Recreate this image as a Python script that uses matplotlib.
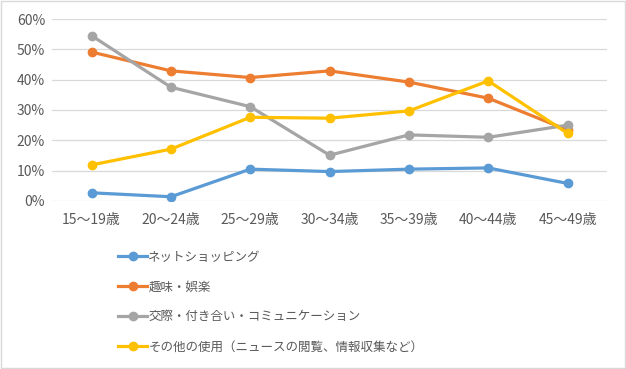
import matplotlib.pyplot as plt
from matplotlib.patches import Rectangle

plt.rcParams['font.family'] = ['Noto Sans CJK JP', 'DejaVu Sans']

# データ
ages = ['15〜19歳', '20〜24歳', '25〜29歳', '30〜34歳', '35〜39歳', '40〜44歳', '45〜49歳']
shopping = [2.7, 1.4, 10.5, 9.7, 10.5, 10.9, 5.8]
hobby = [49.1, 42.9, 40.7, 42.9, 39.2, 33.9, 23.4]
social = [54.5, 37.5, 31.1, 15.1, 21.8, 21.0, 25.0]
other = [11.9, 17.1, 27.6, 27.3, 29.7, 39.6, 22.3]

labels = ['ネットショッピング', '趣味・娯楽', '交際・付き合い・コミュニケーション',
          'その他の使用（ニュースの閲覧、情報収集など）']
colors = ['#5B9BD5', '#ED7D31', '#A5A5A5', '#FFC000']

fig = plt.figure(figsize=(6.26, 3.69), dpi=100)
ax = fig.add_axes([0.083, 0.4553, 0.887, 0.4932])

x = range(len(ages))
for vals, lab, c in zip([shopping, hobby, social, other], labels, colors):
    ax.plot(x, vals, color=c, lw=2.3, marker='o', ms=6, label=lab)

ax.set_xlim(-0.5, len(ages) - 0.5)
ax.set_ylim(0, 60)
ax.set_yticks(range(0, 61, 10))
ax.set_yticklabels([f'{v}%' for v in range(0, 61, 10)])
ax.set_xticks(list(x))
ax.set_xticklabels(ages)
ax.grid(axis='y', color='#D9D9D9', lw=0.9)
ax.set_axisbelow(True)
for s in ax.spines.values():
    s.set_visible(False)
ax.tick_params(length=0, labelsize=10, colors='#595959', pad=5)
ax.tick_params(axis='x', pad=9)

fig.legend(loc='upper left', bbox_to_anchor=(0.171, 0.351), frameon=False,
           fontsize=9, handlelength=2.3, handletextpad=0.1, labelspacing=1.35,
           labelcolor='#595959')

fig.patches.append(Rectangle((0.001, 0.002), 0.997, 0.995, transform=fig.transFigure,
                             fill=False, edgecolor='#D9D9D9', lw=1))

fig.savefig('out.png', dpi=100)
